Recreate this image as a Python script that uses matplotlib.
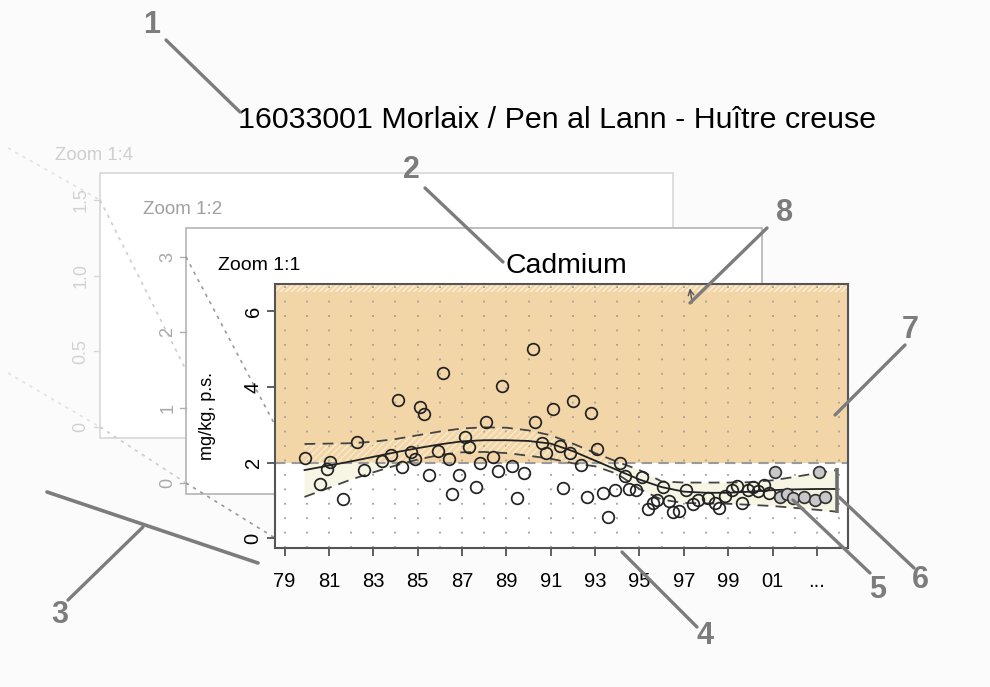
import numpy as np
import matplotlib
matplotlib.use('Agg')
import matplotlib.pyplot as plt
from matplotlib.patches import Rectangle

plt.rcParams['font.family'] = ['Liberation Sans', 'DejaVu Sans']

# mesures (annee, mg/kg p.s.)
years = [1979.9, 1980.6, 1980.9, 1981.05, 1981.65, 1982.25, 1982.6, 1983.4, 1983.8, 1984.1,
         1984.3, 1984.7, 1984.9, 1985.1, 1985.3, 1985.5, 1985.9, 1986.15, 1986.4, 1986.55,
         1986.85, 1987.15, 1987.3, 1987.65, 1987.8, 1988.1, 1988.4, 1988.6, 1988.8, 1989.25,
         1989.5, 1989.8, 1990.2, 1990.3, 1990.6, 1990.8, 1991.1, 1991.4, 1991.55, 1991.85,
         1992.0, 1992.35, 1992.65, 1992.8, 1993.1, 1993.35, 1993.6, 1993.9, 1994.1, 1994.35,
         1994.55, 1994.85, 1995.1, 1995.4, 1995.6, 1995.8, 1996.05, 1996.35, 1996.5, 1996.8,
         1997.1, 1997.4, 1997.65, 1998.1, 1998.4, 1998.6, 1998.85, 1999.15, 1999.4, 1999.6,
         1999.9, 2000.1, 2000.35, 2000.6, 2000.85, 2001.1, 2001.35, 2001.65, 2001.9, 2002.4,
         2002.9, 2003.1, 2003.35]
values = [2.13, 1.44, 1.82, 2.02, 1.03, 2.55, 1.80, 2.05, 2.20, 3.65,
          1.89, 2.28, 2.08, 3.47, 3.29, 1.66, 2.30, 4.37, 2.10, 1.16,
          1.68, 2.67, 2.41, 1.35, 2.00, 3.08, 2.15, 1.77, 4.03, 1.90,
          1.07, 1.73, 5.00, 3.07, 2.52, 2.26, 3.42, 2.44, 1.32, 2.24,
          3.63, 1.93, 1.08, 3.31, 2.37, 1.20, 0.56, 1.27, 2.00, 1.65,
          1.30, 1.28, 1.61, 0.77, 0.92, 1.02, 1.36, 0.98, 0.70, 0.72,
          1.27, 0.90, 1.00, 1.06, 0.92, 0.79, 1.11, 1.27, 1.38, 0.92,
          1.27, 1.34, 1.25, 1.40, 1.20, 1.75, 1.08, 1.16, 1.05, 1.08,
          1.02, 1.74, 1.08]
recent_year = 2001  # points grises (dernieres annees)

# tendance et enveloppe
trend_years = [1979.9, 1981, 1982, 1983, 1984, 1985, 1986, 1987, 1988, 1989, 1990, 1991, 1992,
               1993, 1994, 1995, 1996, 1997, 1998, 1999, 2000, 2001, 2002, 2003, 2003.9]
trend = [1.80, 1.92, 2.03, 2.15, 2.27, 2.38, 2.48, 2.56, 2.59, 2.59, 2.57, 2.50, 2.30,
         2.05, 1.80, 1.55, 1.35, 1.23, 1.20, 1.20, 1.23, 1.27, 1.29, 1.30, 1.30]
upper = [2.49, 2.50, 2.51, 2.55, 2.62, 2.72, 2.82, 2.90, 2.93, 2.92, 2.85, 2.72, 2.50,
         2.25, 2.02, 1.80, 1.50, 1.47, 1.47, 1.47, 1.48, 1.53, 1.62, 1.72, 1.80]
lower = [1.09, 1.33, 1.55, 1.74, 1.92, 2.08, 2.20, 2.27, 2.28, 2.25, 2.18, 2.10, 1.98,
         1.90, 1.70, 1.30, 1.02, 0.93, 0.92, 0.91, 0.88, 0.85, 0.80, 0.75, 0.70]

threshold = 2.0
off_scale_year = 1997.3
tick_years = list(range(1979, 2004, 2))
tick_labels = ['79', '81', '83', '85', '87', '89', '91', '93', '95', '97', '99', '01', '...']

GREY = '#7c7c7c'

fig = plt.figure(figsize=(9.9, 6.87), dpi=100, facecolor='#fbfbfb')

# fond : cadres des zooms
bg = fig.add_axes([0, 0, 1, 1], zorder=0)
bg.set_xlim(0, 990)
bg.set_ylim(687, 0)
bg.axis('off')

bg.plot([8, 100], [148, 200], ls=(0, (2, 3)), color='#e2e2e2', lw=1.2)
bg.plot([8, 100], [373, 427], ls=(0, (2, 3)), color='#e2e2e2', lw=1.2)
bg.add_patch(Rectangle((100, 173), 573, 265, facecolor='white', edgecolor='#d8d8d8', lw=1.2))
for v, lab in [(1.5, '1.5'), (1.0, '1.0'), (0.5, '0.5'), (0.0, '0')]:
    yy = 427 - v * 151.3
    bg.plot([94, 100], [yy, yy], color='#d8d8d8', lw=1)
    bg.text(81, yy, lab, rotation=90, ha='center', va='center', fontsize=13, color='#d2d2d2')
bg.text(55, 155, 'Zoom 1:4', fontsize=13.3, color='#cfcfcf', va='center')

bg.plot([100, 186], [200, 370], ls=(0, (2, 3)), color='#cdcdcd', lw=1.2)
bg.plot([100, 186], [427, 483], ls=(0, (2, 3)), color='#cdcdcd', lw=1.2)
bg.add_patch(Rectangle((186, 228), 576, 266, facecolor='white', edgecolor='#b4b4b4', lw=1.2))
for v in [3, 2, 1, 0]:
    yy = 483 - v * 75.3
    bg.plot([180, 186], [yy, yy], color='#b0b0b0', lw=1)
    bg.text(168, yy, str(v), rotation=90, ha='center', va='center', fontsize=13, color='#a8a8a8')
bg.text(143, 210, 'Zoom 1:2', fontsize=13.5, color='#a0a0a0', va='center')

bg.plot([186, 275], [257, 425], ls=(0, (2, 3)), color='#9a9a9a', lw=1.2)
bg.plot([186, 275], [483, 538], ls=(0, (2, 3)), color='#9a9a9a', lw=1.2)
bg.text(218, 266, 'Zoom 1:1', fontsize=14, color='black', va='center')

bg.text(557, 120, '16033001 Morlaix / Pen al Lann - Huître creuse', fontsize=21.9,
        ha='center', va='center', color='black')
bg.text(566, 266, 'Cadmium', fontsize=20.4, ha='center', va='center', color='black')

# graphique principal
ax = fig.add_axes([275 / 990, 1 - 548 / 687, 573 / 990, 264 / 687], zorder=2)
ax.set_xlim(1978.57, 2004.4)
ax.set_ylim(-0.26, 6.72)
ax.set_facecolor('white')
ax.axhspan(threshold, 6.72, color='#f3d6a8', lw=0, zorder=0)
ax.axhspan(6.5, 6.72, facecolor='none', edgecolor='#fbf0dc', hatch='//////', lw=0, zorder=0.5)
ax.axhline(threshold, color='#9a9a9a', ls=(0, (5, 3)), lw=1.5, zorder=1)

for yr in range(1979, 2005):
    ax.axvline(yr, color='#a8a090', ls=(0, (1, 7)), lw=1.3, zorder=0.6)

ty = np.array(trend_years)
lo = np.array(lower)
hi = np.array(upper)
ax.fill_between(ty, np.minimum(lo, threshold), np.minimum(hi, threshold),
                facecolor='#f7f5e4', lw=0, zorder=0.7)
ax.fill_between(ty, np.maximum(lo, threshold), np.maximum(hi, threshold),
                facecolor='none', edgecolor='#f9ebcf', hatch='/////', lw=0, zorder=0.7)

ax.plot(trend_years, trend, color='#222222', lw=1.3, zorder=3)
ax.plot(trend_years, upper, color='#444444', lw=1.3, ls=(0, (6, 4)), zorder=3)
ax.plot(trend_years, lower, color='#444444', lw=1.3, ls=(0, (6, 4)), zorder=3)

yrs = np.array(years)
vals = np.array(values)
old = yrs < recent_year
ax.plot(yrs[old], vals[old], 'o', ms=8.4, mfc='none', mec='#222222', mew=1.25, zorder=4)
ax.plot(yrs[~old], vals[~old], 'o', ms=8.4, mfc='#c8c8c8', mec='#333333', mew=1.25, zorder=4)

ax.plot([trend_years[-1]] * 2, [lower[-1] - 0.04, upper[-1] + 0.05], color='#6e6e6e',
        lw=2.6, zorder=3, solid_capstyle='butt')
ax.annotate('', xy=(off_scale_year - 0.05, 6.68), xytext=(off_scale_year + 0.1, 6.15),
            arrowprops=dict(arrowstyle='->', color='#555555', lw=1.0), zorder=5)

ax.set_xticks(tick_years)
ax.set_xticklabels(tick_labels, fontsize=14.5)
ax.set_yticks([0, 2, 4, 6])
ax.set_yticklabels(['0', '2', '4', '6'], rotation=90, va='center', fontsize=14.5)
ax.tick_params(axis='x', length=6, width=1.2, color='#444444', pad=11)
ax.tick_params(axis='y', length=6, width=1.2, color='#444444', pad=3)
for s in ax.spines.values():
    s.set_color('#555555')
    s.set_linewidth(1.5)
ax.set_ylabel('mg/kg, p.s.', fontsize=13, labelpad=20)

# legendes numerotees
fg = fig.add_axes([0, 0, 1, 1], zorder=3)
fg.set_xlim(0, 990)
fg.set_ylim(687, 0)
fg.patch.set_alpha(0)
fg.axis('off')

callouts = [
    ('1', (152, 25), (166, 40), (240, 112)),
    ('2', (411, 170), (425, 188), (503, 262)),
    ('3', (60, 615), (68, 600), (143, 527)),
    ('4', (705, 636), (622, 552), (697, 627)),
    ('5', (878, 590), (793, 500), (870, 573)),
    ('6', (920, 580), (839, 497), (914, 568)),
    ('7', (910, 330), (835, 415), (905, 345)),
    ('8', (785, 213), (767, 228), (690, 303)),
]
for num, tpos, p0, p1 in callouts:
    fg.plot([p0[0], p1[0]], [p0[1], p1[1]], color=GREY, lw=2.4, solid_capstyle='round')
    fg.text(tpos[0], tpos[1], num, fontsize=22, fontweight='bold', color=GREY,
            ha='center', va='center')
fg.plot([47, 258], [492, 563], color=GREY, lw=2.6, solid_capstyle='round')

fig.savefig('out.png', dpi=100, facecolor=fig.get_facecolor())
